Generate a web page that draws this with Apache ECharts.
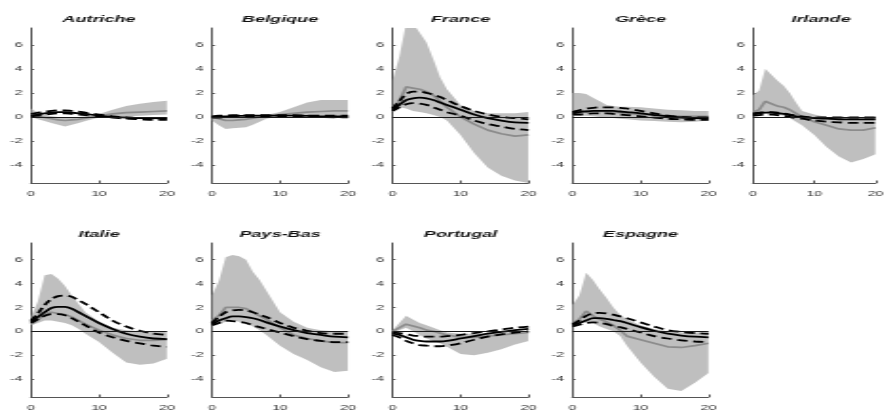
<!DOCTYPE html>
<html>
<head>
<meta charset="utf-8">
<script src="https://cdn.jsdelivr.net/npm/echarts@6/dist/echarts.min.js"></script>
<style>
html,body{margin:0;padding:0;background:#fff;overflow:hidden;}
#wrap{width:890px;height:412px;overflow:hidden;position:relative;}
#c{width:468.42px;height:412px;transform:scaleX(1.9);transform-origin:0 0;position:absolute;left:0;top:0;}
</style>
</head>
<body>
<div id="wrap"><div id="c"></div></div>
<script>
// Horizons (quarters)
const X = [0,1,2,3,4,5,6,7,8,10,12,14,16,18,20];
const X_TICKS = [0,10,20];
const Y_TICKS = [-4,-2,0,2,4,6];
const COUNTRIES = ['Autriche','Belgique','France','Grèce','Irlande','Italie','Pays-Bas','Portugal','Espagne'];

// Autriche
const AUT_LO  = [0.0,-0.2,-0.35,-0.5,-0.65,-0.8,-0.65,-0.5,-0.35,-0.05,0.0,0.05,0.1,0.15,0.2];
const AUT_HI  = [0.7,0.35,0.15,0.05,0.0,0.0,0.0,0.0,0.05,0.25,0.6,0.9,1.1,1.25,1.35];
const AUT_MED = [0.2,0.05,-0.05,-0.15,-0.25,-0.3,-0.25,-0.2,-0.1,0.1,0.25,0.35,0.4,0.45,0.5];
const AUT_EST = [0.1,0.2,0.3,0.35,0.4,0.4,0.35,0.3,0.25,0.1,0.0,-0.05,-0.1,-0.1,-0.15];
const AUT_UP  = [0.25,0.35,0.45,0.5,0.55,0.55,0.5,0.45,0.35,0.2,0.05,-0.05,-0.1,-0.1,-0.1];
const AUT_DN  = [0.05,0.1,0.2,0.25,0.3,0.3,0.25,0.2,0.15,0.05,-0.05,-0.15,-0.2,-0.25,-0.25];
// Belgique
const BEL_LO  = [-0.3,-0.7,-1.0,-0.95,-0.9,-0.85,-0.65,-0.4,-0.15,0.05,0.1,0.1,0.1,0.1,0.1];
const BEL_HI  = [0.1,0.05,0.0,0.0,0.0,0.0,0.05,0.1,0.15,0.4,0.8,1.2,1.4,1.4,1.4];
const BEL_MED = [0.0,-0.15,-0.3,-0.3,-0.25,-0.2,-0.1,0.0,0.05,0.2,0.3,0.4,0.45,0.5,0.5];
const BEL_EST = [0.0,0.02,0.05,0.07,0.08,0.1,0.1,0.1,0.1,0.1,0.1,0.08,0.05,0.05,0.05];
const BEL_UP  = [0.05,0.1,0.12,0.15,0.15,0.15,0.15,0.15,0.15,0.15,0.15,0.12,0.1,0.1,0.1];
const BEL_DN  = [-0.05,-0.05,-0.03,0.0,0.0,0.03,0.05,0.05,0.05,0.05,0.03,0.0,-0.02,-0.03,-0.03];
// France
const FRA_LO  = [0.4,0.8,0.7,0.5,0.4,0.3,0.15,0.0,-0.3,-1.5,-3.0,-4.2,-4.9,-5.3,-5.5];
const FRA_HI  = [3.0,5.0,7.8,7.8,7.0,6.2,4.8,3.3,2.3,1.0,0.5,0.3,0.3,0.3,0.4];
const FRA_MED = [0.8,1.3,2.5,2.4,2.3,2.1,1.8,1.3,0.8,0.0,-0.6,-1.1,-1.4,-1.6,-1.5];
const FRA_EST = [0.6,1.0,1.4,1.55,1.6,1.55,1.4,1.2,1.0,0.6,0.2,-0.1,-0.3,-0.45,-0.5];
const FRA_UP  = [0.7,1.3,1.9,2.1,2.1,2.0,1.85,1.65,1.4,0.9,0.5,0.2,0.0,-0.1,-0.2];
const FRA_DN  = [0.5,0.8,1.05,1.15,1.1,1.0,0.8,0.6,0.4,0.1,-0.3,-0.6,-0.8,-1.0,-1.1];
// Grèce
const GRC_LO  = [0.1,0.1,0.1,0.05,0.0,0.0,-0.1,-0.15,-0.2,-0.3,-0.35,-0.4,-0.45,-0.4,-0.3];
const GRC_HI  = [2.0,2.0,1.9,1.6,1.3,1.0,0.9,0.85,0.85,0.8,0.7,0.6,0.55,0.5,0.5];
const GRC_MED = [0.5,0.5,0.5,0.5,0.45,0.45,0.4,0.35,0.3,0.2,0.15,0.1,0.05,0.05,0.05];
const GRC_EST = [0.3,0.4,0.45,0.5,0.5,0.5,0.5,0.45,0.4,0.3,0.15,0.05,-0.05,-0.1,-0.1];
const GRC_UP  = [0.4,0.55,0.7,0.75,0.8,0.8,0.8,0.75,0.7,0.5,0.3,0.1,0.0,-0.05,-0.05];
const GRC_DN  = [0.2,0.2,0.25,0.3,0.3,0.3,0.25,0.2,0.15,0.05,-0.05,-0.15,-0.2,-0.25,-0.25];
// Irlande
const IRL_LO  = [0.3,0.2,0.3,0.3,0.2,0.1,-0.1,-0.4,-0.7,-1.5,-2.5,-3.3,-3.8,-3.5,-3.1];
const IRL_HI  = [1.8,2.2,4.0,3.5,3.0,2.6,2.0,1.2,0.5,0.2,0.0,-0.05,-0.1,-0.1,-0.1];
const IRL_MED = [0.4,0.6,1.3,1.1,0.9,0.8,0.6,0.3,0.0,-0.4,-0.7,-1.0,-1.1,-1.1,-0.9];
const IRL_EST = [0.2,0.3,0.35,0.35,0.3,0.25,0.15,0.05,0.0,-0.1,-0.15,-0.2,-0.2,-0.2,-0.2];
const IRL_UP  = [0.3,0.35,0.4,0.4,0.35,0.3,0.2,0.1,0.05,-0.05,-0.05,-0.05,-0.05,-0.05,-0.05];
const IRL_DN  = [0.1,0.15,0.2,0.2,0.15,0.1,0.0,-0.1,-0.15,-0.3,-0.4,-0.45,-0.5,-0.5,-0.5];
// Italie
const ITA_LO  = [0.5,0.7,0.9,0.9,0.8,0.7,0.5,0.2,-0.2,-0.9,-1.8,-2.6,-2.8,-2.7,-2.3];
const ITA_HI  = [1.2,2.5,4.7,4.8,4.4,3.8,3.0,2.3,1.6,0.8,0.3,0.1,0.0,0.0,0.0];
const ITA_MED = [0.6,1.0,1.4,1.6,1.5,1.4,1.2,0.9,0.6,0.1,-0.3,-0.6,-0.75,-0.75,-0.7];
const ITA_EST = [0.8,1.2,1.6,1.95,2.05,2.05,1.9,1.6,1.3,0.7,0.2,-0.2,-0.45,-0.6,-0.65];
const ITA_UP  = [0.9,1.5,2.2,2.7,2.95,3.0,2.9,2.6,2.3,1.6,0.9,0.4,0.05,-0.2,-0.3];
const ITA_DN  = [0.7,1.0,1.3,1.45,1.45,1.35,1.1,0.8,0.5,-0.1,-0.5,-0.8,-1.0,-1.2,-1.3];
// Pays-Bas
const NLD_LO  = [0.5,0.6,0.8,0.9,0.8,0.7,0.4,0.1,-0.3,-1.2,-1.9,-2.4,-3.0,-3.4,-3.3];
const NLD_HI  = [3.0,4.2,6.2,6.4,6.3,6.0,5.0,4.3,3.4,1.6,0.8,0.3,0.1,0.0,0.0];
const NLD_MED = [0.9,1.3,2.0,2.0,2.0,1.9,1.6,1.3,1.0,0.3,-0.3,-0.6,-0.8,-0.95,-0.95];
const NLD_EST = [0.6,0.9,1.1,1.25,1.25,1.2,1.1,0.95,0.75,0.4,0.1,-0.15,-0.3,-0.45,-0.5];
const NLD_UP  = [0.7,1.2,1.6,1.75,1.8,1.75,1.6,1.4,1.2,0.7,0.3,0.05,-0.15,-0.2,-0.2];
const NLD_DN  = [0.5,0.7,0.9,0.85,0.8,0.7,0.5,0.35,0.2,-0.1,-0.4,-0.65,-0.8,-0.9,-0.9];
// Portugal
const PRT_LO  = [-0.1,0.1,0.3,0.0,-0.3,-0.6,-0.8,-1.0,-1.3,-1.9,-2.0,-1.8,-1.5,-1.1,-0.8];
const PRT_HI  = [0.1,0.7,1.3,1.0,0.7,0.5,0.3,0.1,-0.1,-0.2,-0.2,-0.15,-0.1,-0.05,0.0];
const PRT_MED = [0.0,0.3,0.6,0.45,0.3,0.1,0.0,-0.15,-0.3,-0.5,-0.5,-0.4,-0.3,-0.2,-0.1];
const PRT_EST = [-0.2,-0.3,-0.5,-0.7,-0.8,-0.85,-0.85,-0.85,-0.8,-0.6,-0.4,-0.2,-0.05,0.1,0.2];
const PRT_UP  = [-0.1,-0.15,-0.25,-0.35,-0.4,-0.45,-0.45,-0.45,-0.4,-0.3,-0.15,0.0,0.15,0.3,0.4];
const PRT_DN  = [-0.3,-0.5,-0.8,-1.0,-1.15,-1.2,-1.25,-1.25,-1.2,-1.0,-0.7,-0.45,-0.25,-0.1,0.0];
// Espagne
const ESP_LO  = [0.5,0.6,0.8,0.7,0.4,0.2,0.0,-0.4,-1.2,-2.6,-3.8,-4.8,-5.0,-4.3,-3.5];
const ESP_HI  = [2.2,3.0,4.9,4.3,3.5,2.8,2.0,1.4,1.0,0.5,0.2,0.0,-0.1,-0.1,-0.1];
const ESP_MED = [0.7,1.0,1.7,1.3,1.0,0.8,0.5,0.1,-0.4,-0.7,-1.0,-1.3,-1.35,-1.2,-1.0];
const ESP_EST = [0.5,0.7,0.9,1.1,1.1,1.05,0.95,0.85,0.7,0.35,0.05,-0.2,-0.35,-0.45,-0.5];
const ESP_UP  = [0.6,0.9,1.3,1.5,1.55,1.5,1.4,1.25,1.1,0.75,0.4,0.1,-0.05,-0.15,-0.2];
const ESP_DN  = [0.4,0.55,0.7,0.75,0.7,0.6,0.45,0.35,0.2,-0.1,-0.4,-0.6,-0.75,-0.85,-0.9];

const PANELS = [
  [AUT_LO,AUT_HI,AUT_MED,AUT_EST,AUT_UP,AUT_DN],
  [BEL_LO,BEL_HI,BEL_MED,BEL_EST,BEL_UP,BEL_DN],
  [FRA_LO,FRA_HI,FRA_MED,FRA_EST,FRA_UP,FRA_DN],
  [GRC_LO,GRC_HI,GRC_MED,GRC_EST,GRC_UP,GRC_DN],
  [IRL_LO,IRL_HI,IRL_MED,IRL_EST,IRL_UP,IRL_DN],
  [ITA_LO,ITA_HI,ITA_MED,ITA_EST,ITA_UP,ITA_DN],
  [NLD_LO,NLD_HI,NLD_MED,NLD_EST,NLD_UP,NLD_DN],
  [PRT_LO,PRT_HI,PRT_MED,PRT_EST,PRT_UP,PRT_DN],
  [ESP_LO,ESP_HI,ESP_MED,ESP_EST,ESP_UP,ESP_DN]
];

const SX = 1.9; // horizontal stretch of the reference figure
const colLeft = [31,212,392.5,572.5,753].map(v => v / SX);
const gW = 136 / SX;
const rowTop = [28,243];
const gH = 155;
const FONT = 'Liberation Sans, Arial, Helvetica, sans-serif';
const zip = (xs, ys) => xs.map((x,i) => [x, ys[i]]);

const grids = [], xAxes = [], yAxes = [], titles = [], series = [];
COUNTRIES.forEach((name, i) => {
  const r = i < 5 ? 0 : 1, c = i < 5 ? i : i - 5;
  const left = colLeft[c];
  grids.push({left: left, top: rowTop[r], width: gW, height: gH, containLabel: false});
  titles.push({text: name, left: left + gW/2, top: rowTop[r] - 14, textAlign: 'center', padding: 0,
    textStyle: {fontSize: 9.5, fontWeight: 'bold', fontStyle: 'italic', color: '#111', fontFamily: FONT}});
  xAxes.push({type: 'value', gridIndex: i, min: 0, max: 20, interval: 10,
    axisLine: {onZero: false, lineStyle: {color: '#555', width: 1.2}},
    axisTick: {inside: true, length: 2.5, lineStyle: {color: '#555'}},
    axisLabel: {fontSize: 7.5, color: '#333', margin: 7, fontFamily: FONT, customValues: X_TICKS},
    splitLine: {show: false}});
  yAxes.push({type: 'value', gridIndex: i, min: -5.5, max: 7.4,
    axisLine: {show: true, onZero: false, lineStyle: {color: '#555', width: 1}},
    axisTick: {show: true, inside: true, length: 1.6, customValues: Y_TICKS, lineStyle: {color: '#555'}},
    axisLabel: {fontSize: 7.5, color: '#333', margin: 4.5, fontFamily: FONT, customValues: Y_TICKS},
    splitLine: {show: false}});
  const [lo, hi, med, est, up, dn] = PANELS[i];
  // confidence band drawn as a polygon through the axis scales
  series.push({type: 'custom', xAxisIndex: i, yAxisIndex: i, clip: true, silent: true,
    data: X.map((x, k) => [x, lo[k], hi[k]]),
    encode: {x: 0, y: [1, 2]},
    renderItem: (params, api) => {
      if (params.dataIndex !== 0) return null;
      const pts = [];
      for (let k = 0; k < X.length; k++) pts.push(api.coord([X[k], lo[k]]));
      for (let k = X.length - 1; k >= 0; k--) pts.push(api.coord([X[k], hi[k]]));
      const cs = params.coordSys;
      return {type: 'polygon', shape: {points: pts},
        style: {fill: '#bfbfbf', stroke: null},
        clipPath: {type: 'rect', shape: {x: cs.x, y: cs.y, width: cs.width, height: cs.height}}};
    }});
  series.push({type: 'line', xAxisIndex: i, yAxisIndex: i, data: zip(X, med), symbol: 'none',
    lineStyle: {color: '#8c8c8c', width: 1.7}, silent: true,
    markLine: {silent: true, symbol: 'none', label: {show: false}, animation: false,
      lineStyle: {color: '#1a1a1a', width: 1, type: 'solid'}, data: [{yAxis: 0}]}});
  series.push({type: 'line', xAxisIndex: i, yAxisIndex: i, data: zip(X, est), symbol: 'none', smooth: 0.3,
    lineStyle: {color: '#000', width: 1.8}, silent: true});
  series.push({type: 'line', xAxisIndex: i, yAxisIndex: i, data: zip(X, up), symbol: 'none', smooth: 0.3,
    lineStyle: {color: '#000', width: 1.8, type: [5.5, 3]}, silent: true});
  series.push({type: 'line', xAxisIndex: i, yAxisIndex: i, data: zip(X, dn), symbol: 'none', smooth: 0.3,
    lineStyle: {color: '#000', width: 1.8, type: [5.5, 3]}, silent: true});
});

const chart = echarts.init(document.getElementById('c'));
chart.setOption({
  animation: false,
  backgroundColor: '#fff',
  title: titles,
  grid: grids,
  xAxis: xAxes,
  yAxis: yAxes,
  series: series
});
</script>
</body>
</html>
